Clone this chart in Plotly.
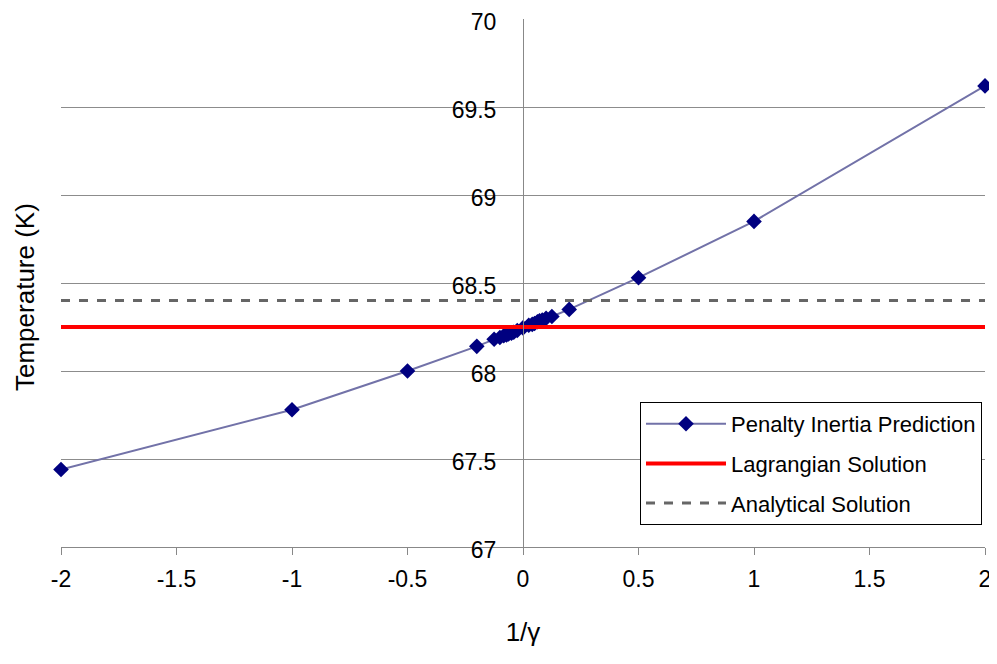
import plotly.graph_objects as go

inv_gamma = [-2, -1, -0.5, -0.2, -0.125, -0.1, -0.0833, -0.0714, -0.0625, -0.05, -0.04, -0.025, 0,
             0.025, 0.04, 0.05, 0.0625, 0.0714, 0.0833, 0.1, 0.125, 0.2, 0.5, 1, 2]
temperature = [67.44, 67.78, 68.00, 68.14, 68.18, 68.19, 68.20, 68.205, 68.21, 68.215, 68.22, 68.23, 68.245,
               68.26, 68.265, 68.27, 68.28, 68.285, 68.29, 68.30, 68.31, 68.35, 68.53, 68.85, 69.62]
x_span = [-2, 2]
lagrangian = 68.25
analytical = 68.40
x_ticks = [-2, -1.5, -1, -0.5, 0, 0.5, 1, 1.5, 2]
y_ticks = [67, 67.5, 68, 68.5, 69, 69.5, 70]

font = "Liberation Sans, Arial, sans-serif"
OFF = 8  # page body margin
W, H = 997, 664
L = 61 - OFF
T = 19 - OFF
R = W + OFF - 985
B = H + OFF - 547

fig = go.Figure()
fig.add_trace(go.Scatter(
    x=inv_gamma, y=temperature, mode="lines+markers", name="Penalty Inertia Prediction",
    line=dict(color="#7272A8", width=2),
    marker=dict(symbol="diamond", color="#000080", size=12),
    legendgroup="a", cliponaxis=False))
fig.add_trace(go.Scatter(
    x=x_span, y=[lagrangian, lagrangian], mode="lines", name="Lagrangian Solution",
    line=dict(color="#FF0000", width=4), legendgroup="b"))
fig.add_trace(go.Scatter(
    x=x_span, y=[analytical, analytical], mode="lines", name="Analytical Solution",
    line=dict(color="#666666", width=3, dash="dash"), legendgroup="c"))

pw = W - L - R
ph = H - T - B
def px_x(p):
    return (p - OFF - L) / pw
def px_y(p):
    return (H - B - (p - OFF)) / ph

fig.update_layout(
    width=W, height=H,
    margin=dict(l=L, r=R, t=T, b=B, autoexpand=False),
    paper_bgcolor="white", plot_bgcolor="white",
    font=dict(family=font, color="black", size=22),
    showlegend=True,
    legend=dict(x=px_x(982), y=px_y(402), xanchor="right", yanchor="top",
                bgcolor="white", bordercolor="black", borderwidth=1,
                font=dict(size=22, family=font), tracegroupgap=8,
                itemwidth=80),
    xaxis=dict(range=[-2, 2], tickvals=x_ticks, ticktext=[str(v) for v in x_ticks],
               showgrid=False, zeroline=False, showline=True, linecolor="#888888", linewidth=1,
               ticks="outside", ticklen=7, tickcolor="#888888",
               tickfont=dict(size=23), ticklabelstandoff=4, ticklabeloverflow="allow",
               title=dict(text="1/γ", font=dict(size=26), standoff=32)),
    yaxis=dict(range=[67, 70], tickvals=y_ticks, ticktext=[str(v) for v in y_ticks],
               anchor="free", position=0.5,
               showgrid=True, gridcolor="#8c8c8c", gridwidth=1,
               zeroline=False, showline=True, linecolor="#888888", linewidth=1,
               ticks="", tickfont=dict(size=23), ticklabelstandoff=22, ticklabeloverflow="allow",
               ticklabelshift=3),
    annotations=[dict(text="Temperature (K)", textangle=-90, x=px_x(25), xref="paper",
                      y=px_y(297), yref="paper",
                      showarrow=False, font=dict(size=26), xanchor="center", yanchor="middle")],
)

fig.write_html("out.html")
